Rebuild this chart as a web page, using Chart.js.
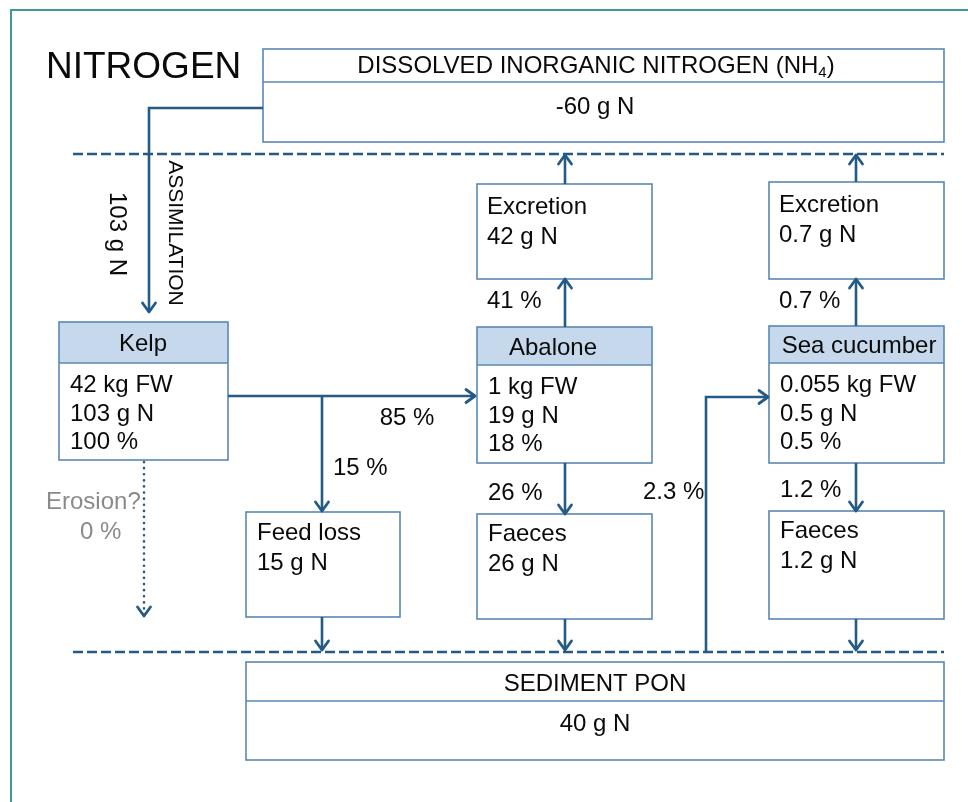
<!DOCTYPE html>
<html lang="en">
<head>
<meta charset="UTF-8" />
<title>Nitrogen budget</title>
<script src="https://cdn.jsdelivr.net/npm/chart.js"></script>
<style>
	body { margin: 0; background: #fff; }
	#wrap { width: 968px; height: 802px; }
</style>
</head>
<body>
<div id="wrap"><canvas id="myChart" width="968" height="802"></canvas></div>
<script>
// nitrogen budget values (g N unless said otherwise)
const species = ["Kelp", "Abalone", "Sea cucumber"];
const biomassKgFW = [42, 1, 0.055];
const nitrogenG = [103, 19, 0.5];
const nitrogenPct = [100, 18, 0.5];
const excretionG = [42, 0.7];   // abalone, sea cucumber
const excretionPct = [41, 0.7];
const faecesG = [26, 1.2];
const faecesPct = [26, 1.2];
const kelpSplitPct = [85, 15];  // to abalone, feed loss
const feedLossG = 15;
const erosionPct = 0;
const assimilationG = 103;
const sedimentUptakePct = 2.3;
const dinG = -60;
const sedimentG = 40;

// diagram layout, in units of the 968 x 802 frame
const boxes = {
	din: { x0: 263, y0: 49, x1: 944, y1: 142, split: 82 },
	kelp: { x0: 59, y0: 322, x1: 228, y1: 460, split: 363 },
	abalone: { x0: 477, y0: 327, x1: 652, y1: 463, split: 365 },
	cucumber: { x0: 769, y0: 326, x1: 944, y1: 463, split: 363 },
	abExc: { x0: 477, y0: 184, x1: 652, y1: 279 },
	scExc: { x0: 769, y0: 182, x1: 944, y1: 279 },
	feed: { x0: 246, y0: 512, x1: 400, y1: 617 },
	abFae: { x0: 477, y0: 514, x1: 652, y1: 619 },
	scFae: { x0: 769, y0: 511, x1: 944, y1: 619 },
	sediment: { x0: 246, y0: 662, x1: 944, y1: 760, split: 701 },
};

const BOX = "#5b88b2";
const ARROW = "#245a86";
const HEAD = "#c5d8ec";
const FONT = "Arial, 'Liberation Sans', sans-serif";

const diagram = {
	id: "diagram",
	afterDraw(chart) {
		const c = chart.ctx;
		const X = (v) => chart.scales.x.getPixelForValue(v);
		const Y = (v) => chart.scales.y.getPixelForValue(v);

		function text(s, x, y, opt = {}) {
			c.save();
			c.font = (opt.size || 24) + "px " + FONT;
			c.fillStyle = opt.color || "#0a0a0a";
			c.textAlign = opt.align || "left";
			c.textBaseline = "middle";
			if (opt.rotate) {
				c.translate(X(x), Y(y));
				c.rotate(opt.rotate);
				c.fillText(s, 0, 0);
			} else {
				c.fillText(s, X(x), Y(y));
			}
			c.restore();
		}

		function box(b, header) {
			c.save();
			if (header) {
				c.fillStyle = HEAD;
				c.fillRect(X(b.x0), Y(b.y0), X(b.x1) - X(b.x0), Y(b.split) - Y(b.y0));
			}
			c.strokeStyle = BOX;
			c.lineWidth = 1.6;
			c.strokeRect(X(b.x0), Y(b.y0), X(b.x1) - X(b.x0), Y(b.y1) - Y(b.y0));
			if (b.split) {
				c.beginPath();
				c.moveTo(X(b.x0), Y(b.split));
				c.lineTo(X(b.x1), Y(b.split));
				c.stroke();
			}
			c.restore();
		}

		function arrow(pts, opt = {}) {
			c.save();
			c.strokeStyle = ARROW;
			c.lineWidth = 2.6;
			c.lineCap = opt.dotted ? "round" : "butt";
			if (opt.dotted) c.setLineDash([0.1, 6]);
			c.beginPath();
			c.moveTo(X(pts[0][0]), Y(pts[0][1]));
			for (let i = 1; i < pts.length; i++) c.lineTo(X(pts[i][0]), Y(pts[i][1]));
			c.stroke();
			const [ax, ay] = pts[pts.length - 2];
			const [bx, by] = pts[pts.length - 1];
			const a = Math.atan2(Y(by) - Y(ay), X(bx) - X(ax));
			const L = 9, W = 6.5;
			c.setLineDash([]);
			c.lineWidth = 2.8;
			c.lineCap = "round";
			c.lineJoin = "round";
			c.beginPath();
			c.moveTo(X(bx) - L * Math.cos(a) + W * Math.sin(a), Y(by) - L * Math.sin(a) - W * Math.cos(a));
			c.lineTo(X(bx), Y(by));
			c.lineTo(X(bx) - L * Math.cos(a) - W * Math.sin(a), Y(by) - L * Math.sin(a) + W * Math.cos(a));
			c.stroke();
			c.restore();
		}

		function dashed(y) {
			c.save();
			c.strokeStyle = ARROW;
			c.lineWidth = 2.6;
			c.setLineDash([10, 4]);
			c.beginPath();
			c.moveTo(X(73), Y(y));
			c.lineTo(X(944), Y(y));
			c.stroke();
			c.restore();
		}

		// outer frame
		c.save();
		c.strokeStyle = "#3f9b92";
		c.lineWidth = 2;
		c.strokeRect(X(11), Y(10), X(1100) - X(11), Y(1000) - Y(10));
		c.restore();

		text("NITROGEN", 46, 68, { size: 37 });

		// compartments
		box(boxes.din);
		box(boxes.sediment);
		box(boxes.kelp, true);
		box(boxes.abalone, true);
		box(boxes.cucumber, true);
		box(boxes.abExc);
		box(boxes.scExc);
		box(boxes.feed);
		box(boxes.abFae);
		box(boxes.scFae);

		dashed(154);
		dashed(652);

		// DIN header with subscript
		c.save();
		c.font = "24px " + FONT;
		const main = "DISSOLVED INORGANIC NITROGEN (NH";
		const wMain = c.measureText(main).width;
		c.font = "15px " + FONT;
		const wSub = c.measureText("4").width;
		c.font = "24px " + FONT;
		const wEnd = c.measureText(")").width;
		c.restore();
		const x0 = 596 - (wMain + wSub + wEnd) / 2;
		text(main, x0, 66);
		text("4", x0 + wMain, 73, { size: 15 });
		text(")", x0 + wMain + wSub, 66);
		text(dinG + " g N", 595, 107, { align: "center" });

		text("SEDIMENT PON", 595, 684, { align: "center" });
		text(sedimentG + " g N", 595, 724, { align: "center" });

		// species boxes
		const sp = [boxes.kelp, boxes.abalone, boxes.cucumber];
		const headX = [143, 553, 859];
		species.forEach((name, i) => {
			const b = sp[i];
			text(name, headX[i], (b.y0 + b.split) / 2 + 2, { align: "center" });
			text(biomassKgFW[i] + " kg FW", b.x0 + 11, b.split + 22);
			text(nitrogenG[i] + " g N", b.x0 + 11, b.split + 51);
			text(nitrogenPct[i] + " %", b.x0 + 11, b.split + 79);
		});

		// excretion and faeces boxes
		const exc = [boxes.abExc, boxes.scExc];
		const fae = [boxes.abFae, boxes.scFae];
		const col = [565, 856];
		[0, 1].forEach((i) => {
			const e = exc[i], f = fae[i], s = sp[i + 1];
			text("Excretion", e.x0 + 10, e.y0 + 23);
			text(excretionG[i] + " g N", e.x0 + 10, e.y0 + 53);
			text("Faeces", f.x0 + 11, f.y0 + 20);
			text(faecesG[i] + " g N", f.x0 + 11, f.y0 + 50);
			arrow([[col[i], s.y0], [col[i], e.y1]]);
			arrow([[col[i], e.y0], [col[i], 155]]);
			arrow([[col[i], s.y1], [col[i], f.y0]]);
			arrow([[col[i], f.y1], [col[i], 650]]);
			text(excretionPct[i] + " %", e.x0 + 10, e.y1 + 22);
			text(faecesPct[i] + " %", f.x0 + 11, f.y0 - 21);
		});

		text("Feed loss", boxes.feed.x0 + 11, 533);
		text(feedLossG + " g N", boxes.feed.x0 + 11, 563);

		// assimilation from DIN to kelp
		arrow([[263, 108], [149, 108], [149, 312]]);
		text(assimilationG + " g N", 117, 234, { rotate: Math.PI / 2, align: "center" });
		text("ASSIMILATION", 175, 233, { rotate: Math.PI / 2, align: "center", size: 21 });

		// kelp to abalone and feed loss
		arrow([[228, 396], [475, 396]]);
		arrow([[322, 396], [322, 511]]);
		arrow([[322, 617], [322, 650]]);
		text(kelpSplitPct[0] + " %", 407, 418, { align: "center" });
		text(kelpSplitPct[1] + " %", 333, 468);

		// sediment to sea cucumber
		arrow([[706, 652], [706, 397], [768, 397]]);
		text(sedimentUptakePct + " %", 643, 492);

		// erosion
		arrow([[144, 462], [144, 616]], { dotted: true });
		text("Erosion?", 46, 502, { color: "#8a8a8a" });
		text(erosionPct + " %", 80, 532, { color: "#8a8a8a" });
	},
};

new Chart(document.getElementById("myChart"), {
	type: "scatter",
	data: { datasets: [{ data: [], showLine: false }] },
	options: {
		responsive: false,
		animation: false,
		events: [],
		layout: { padding: 0 },
		plugins: { legend: { display: false }, tooltip: { enabled: false } },
		scales: {
			x: { type: "linear", min: 0, max: 968, display: false },
			y: { type: "linear", min: 0, max: 802, reverse: true, display: false },
		},
	},
	plugins: [diagram],
});
</script>
</body>
</html>
